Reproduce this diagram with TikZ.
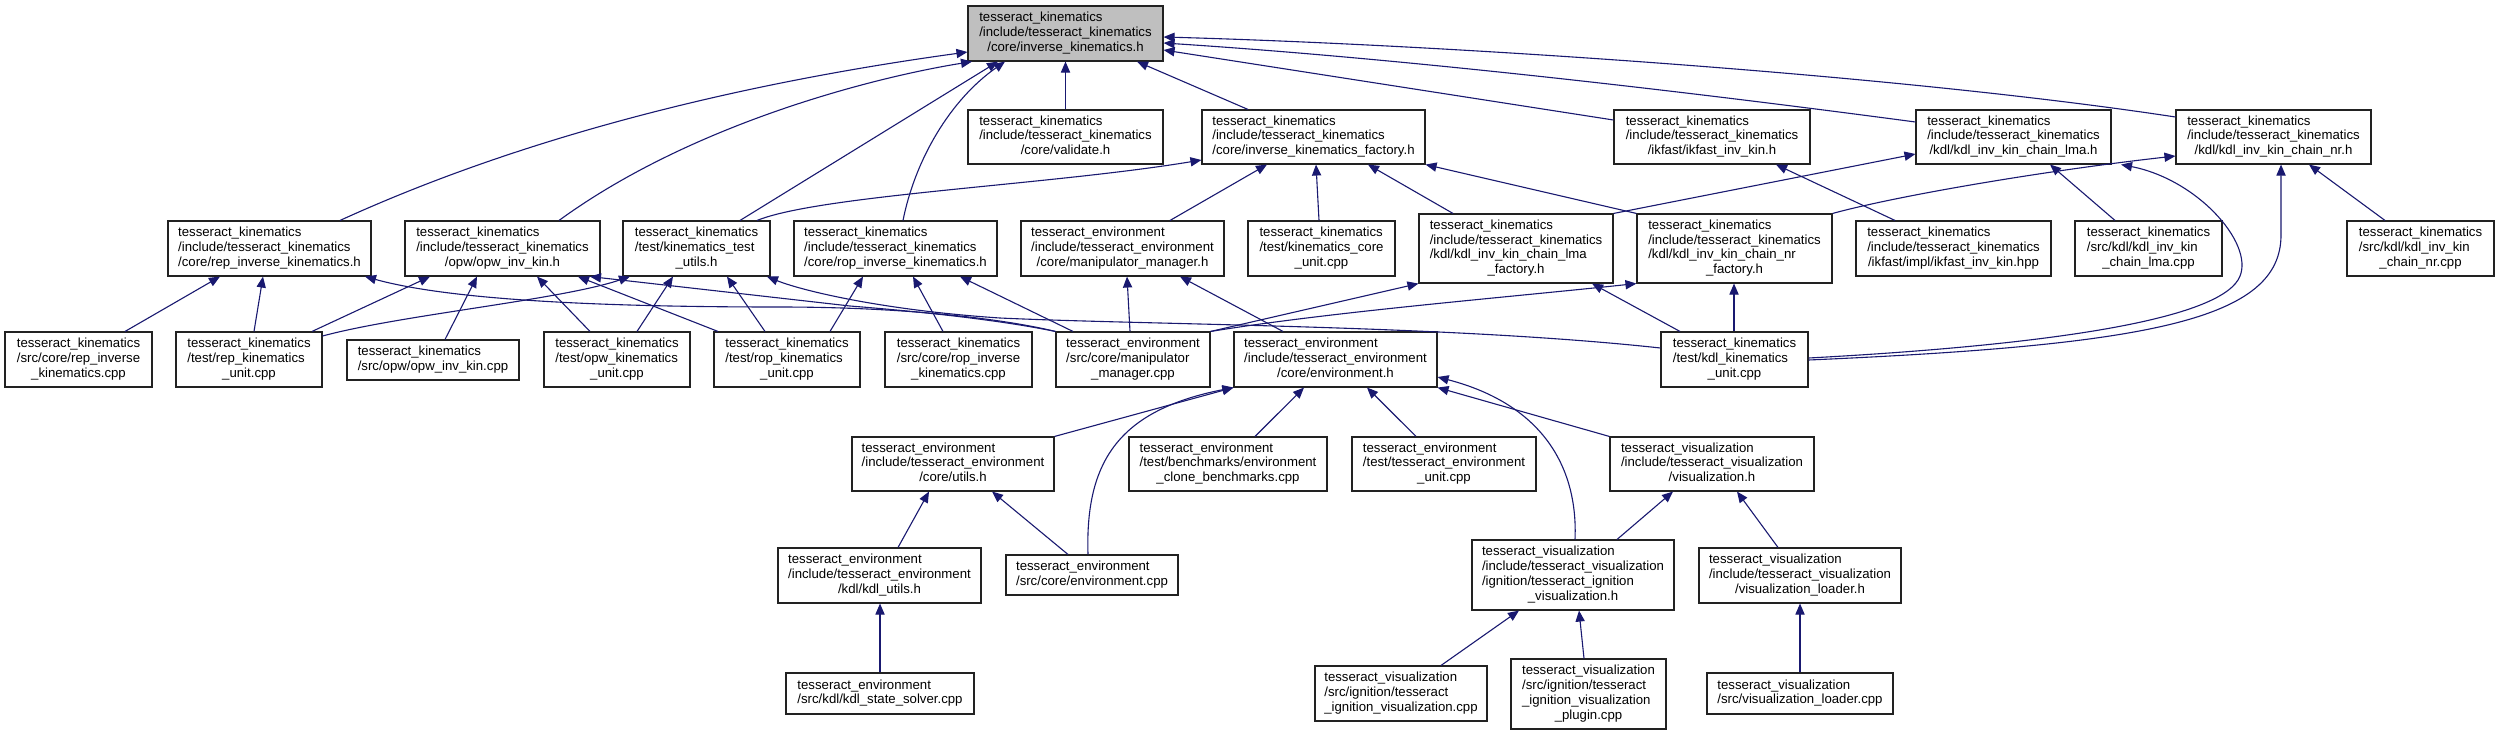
\documentclass[tikz,border=0pt]{standalone}
\usepackage{fontspec}
\setmainfont{Liberation Sans}
\usetikzlibrary{arrows.meta,calc}
\definecolor{edgeblue}{HTML}{191970}
\definecolor{rootgray}{HTML}{BFBFBF}
\definecolor{boxline}{HTML}{222222}
\newcommand\nt[2]{\begin{tabular}{@{}l@{}}#1\\\multicolumn{1}{@{}c@{}}{#2}\end{tabular}}
\tikzset{
  box/.style={draw=boxline, line width=0.55pt, fill=white, inner sep=0pt, font=\fontsize{6.6pt}{7.35pt}\selectfont},
  rootbox/.style={box, fill=rootgray},
  dep/.style={draw=edgeblue, line width=0.55pt, -{Triangle[length=5.5pt,width=4.6pt]}},
}
\newcommand\nb[8][box]{\node[#1, minimum width={(#5-#3)*0.5pt}, minimum height={(#6-#4)*0.5pt}] (#2) at ({(#3+#5)/2},{(#4+#6)/2}) {\nt{#7}{#8}};}
\begin{document}
\begin{tikzpicture}[x=0.5pt,y=-0.5pt]
\fill[white] (0,0) rectangle (2499,735);
\useasboundingbox (0,0) rectangle (2499,735);
% row 1
\nb[rootbox]{root}{968}{6}{1163}{61}{tesseract\_kinematics\\/include/tesseract\_kinematics}{/core/inverse\_kinematics.h}
% row 2
\nb{validate}{968}{110}{1163}{164}{tesseract\_kinematics\\/include/tesseract\_kinematics}{/core/validate.h}
\nb{factory}{1202}{110}{1425}{164}{tesseract\_kinematics\\/include/tesseract\_kinematics}{/core/inverse\_kinematics\_factory.h}
\nb{ikfasth}{1614}{110}{1810}{164}{tesseract\_kinematics\\/include/tesseract\_kinematics}{/ikfast/ikfast\_inv\_kin.h}
\nb{lmah}{1916}{110}{2111}{164}{tesseract\_kinematics\\/include/tesseract\_kinematics}{/kdl/kdl\_inv\_kin\_chain\_lma.h}
\nb{nrh}{2176}{110}{2371}{164}{tesseract\_kinematics\\/include/tesseract\_kinematics}{/kdl/kdl\_inv\_kin\_chain\_nr.h}
% row 3
\nb{reph}{168}{221}{371}{276}{tesseract\_kinematics\\/include/tesseract\_kinematics}{/core/rep\_inverse\_kinematics.h}
\nb{opwh}{405}{221}{600}{276}{tesseract\_kinematics\\/include/tesseract\_kinematics}{/opw/opw\_inv\_kin.h}
\nb{tuh}{623}{221}{770}{276}{tesseract\_kinematics\\/test/kinematics\_test}{\_utils.h}
\nb{roph}{794}{221}{997}{276}{tesseract\_kinematics\\/include/tesseract\_kinematics}{/core/rop\_inverse\_kinematics.h}
\nb{mmh}{1021}{221}{1224}{276}{tesseract\_environment\\/include/tesseract\_environment}{/core/manipulator\_manager.h}
\nb{kcu}{1248}{221}{1395}{276}{tesseract\_kinematics\\/test/kinematics\_core}{\_unit.cpp}
\nb{lmaf}{1419}{214}{1613}{283}{tesseract\_kinematics\\/include/tesseract\_kinematics\\/kdl/kdl\_inv\_kin\_chain\_lma}{\_factory.h}
\nb{nrf}{1637}{214}{1832}{283}{tesseract\_kinematics\\/include/tesseract\_kinematics\\/kdl/kdl\_inv\_kin\_chain\_nr}{\_factory.h}
\nb{ikhpp}{1856}{221}{2051}{276}{tesseract\_kinematics\\/include/tesseract\_kinematics}{/ikfast/impl/ikfast\_inv\_kin.hpp}
\nb{lmacpp}{2075}{221}{2222}{276}{tesseract\_kinematics\\/src/kdl/kdl\_inv\_kin}{\_chain\_lma.cpp}
\nb{nrcpp}{2347}{221}{2494}{276}{tesseract\_kinematics\\/src/kdl/kdl\_inv\_kin}{\_chain\_nr.cpp}
% row 4
\nb{repcpp}{5}{332}{152}{387}{tesseract\_kinematics\\/src/core/rep\_inverse}{\_kinematics.cpp}
\nb{repunit}{176}{332}{322}{387}{tesseract\_kinematics\\/test/rep\_kinematics}{\_unit.cpp}
\nb{opwcpp}{347}{340}{519}{380}{tesseract\_kinematics}{/src/opw/opw\_inv\_kin.cpp}
\nb{opwunit}{544}{332}{690}{387}{tesseract\_kinematics\\/test/opw\_kinematics}{\_unit.cpp}
\nb{ropunit}{714}{332}{860}{387}{tesseract\_kinematics\\/test/rop\_kinematics}{\_unit.cpp}
\nb{ropcpp}{885}{332}{1032}{387}{tesseract\_kinematics\\/src/core/rop\_inverse}{\_kinematics.cpp}
\nb{mmcpp}{1056}{332}{1210}{387}{tesseract\_environment\\/src/core/manipulator}{\_manager.cpp}
\nb{envh}{1234}{332}{1437}{387}{tesseract\_environment\\/include/tesseract\_environment}{/core/environment.h}
\nb{kdlunit}{1661}{332}{1808}{387}{tesseract\_kinematics\\/test/kdl\_kinematics}{\_unit.cpp}
% row 5
\nb{utilsh}{852}{437}{1054}{491}{tesseract\_environment\\/include/tesseract\_environment}{/core/utils.h}
\nb{bench}{1129}{437}{1327}{491}{tesseract\_environment\\/test/benchmarks/environment}{\_clone\_benchmarks.cpp}
\nb{envunit}{1352}{437}{1536}{491}{tesseract\_environment\\/test/tesseract\_environment}{\_unit.cpp}
\nb{vish}{1610}{437}{1814}{491}{tesseract\_visualization\\/include/tesseract\_visualization}{/visualization.h}
% row 6
\nb{kdlutils}{778}{548}{981}{603}{tesseract\_environment\\/include/tesseract\_environment}{/kdl/kdl\_utils.h}
\nb{envcpp}{1006}{555}{1178}{595}{tesseract\_environment}{/src/core/environment.cpp}
\nb{ignh}{1472}{540}{1674}{610}{tesseract\_visualization\\/include/tesseract\_visualization\\/ignition/tesseract\_ignition}{\_visualization.h}
\nb{loaderh}{1699}{548}{1901}{603}{tesseract\_visualization\\/include/tesseract\_visualization}{/visualization\_loader.h}
% row 7
\nb{kdlss}{786}{673}{974}{714}{tesseract\_environment}{/src/kdl/kdl\_state\_solver.cpp}
\nb{igncpp}{1315}{666}{1487}{721}{tesseract\_visualization\\/src/ignition/tesseract}{\_ignition\_visualization.cpp}
\nb{plugin}{1511}{659}{1666}{729}{tesseract\_visualization\\/src/ignition/tesseract\\\_ignition\_visualization}{\_plugin.cpp}
\nb{loadercpp}{1707}{673}{1893}{714}{tesseract\_visualization}{/src/visualization\_loader.cpp}
% edges into root
\draw[dep] (reph.north -| 340,0) .. controls (560,120) and (800,75) .. (root.west |- 0,52);
\draw[dep] (opwh.north -| 559,0) .. controls (690,125) and (870,78) .. (root.south -| 972,0);
\draw[dep] (tuh.north -| 740,0) -- (root.south -| 998,0);
\draw[dep] (roph.north -| 903,0) .. controls (915,160) and (950,100) .. (root.south -| 1005,0);
\draw[dep] (validate.north) -- (root.south);
\draw[dep] (factory.north -| 1248,0) -- (root.south -| 1137,0);
\draw[dep] (ikfasth.west |- 0,120) -- (root.east |- 0,50);
\draw[dep] (lmah.west |- 0,122) .. controls (1600,80) and (1350,55) .. (root.east |- 0,43);
\draw[dep] (nrh.west |- 0,117) .. controls (1900,75) and (1450,45) .. (root.east |- 0,37);
% into factory
\draw[dep] (tuh.north -| 757,0) .. controls (820,195) and (1050,185) .. (factory.west |- 0,160);
\draw[dep] (mmh.north -| 1170,0) -- (factory.south -| 1267,0);
\draw[dep] (kcu.north -| 1319,0) -- (factory.south -| 1316,0);
\draw[dep] (lmaf.north -| 1453,0) -- (factory.south -| 1368,0);
\draw[dep] (nrf.north west) -- (factory.south east);
% into row-2 kdl / ikfast
\draw[dep] (ikhpp.north -| 1895,0) -- (ikfasth.south -| 1776,0);
\draw[dep] (lmaf.north east) -- (lmah.west |- 0,154);
\draw[dep] (lmacpp.north -| 2115,0) -- (lmah.south -| 2050,0);
\draw[dep] (kdlunit.east |- 0,358) .. controls (2050,345) and (2213,320) .. (2238,280) .. controls (2258,248) and (2200,180) .. (lmah.south -| 2121,0);
\draw[dep] (nrf.north east) .. controls (1900,195) and (2050,170) .. (nrh.west |- 0,156);
\draw[dep] (nrcpp.north -| 2385,0) -- (nrh.south -| 2309,0);
\draw[dep] (kdlunit.east |- 0,360) .. controls (2150,345) and (2281,320) .. (2281,235) -- (nrh.south -| 2281,0);
% into row 3
\draw[dep] (repcpp.north -| 125,0) -- (reph.south -| 220,0);
\draw[dep] (repunit.north -| 254,0) -- (reph.south -| 263,0);
\draw[dep] (mmcpp.north west) .. controls (1000,318) and (900,307) .. (780,307) .. controls (600,307) and (450,300) .. (reph.south -| 365,0);
\draw[dep] (repunit.north -| 312,0) -- (opwh.south -| 430,0);
\draw[dep] (opwcpp.north -| 445,0) -- (opwh.south -| 477,0);
\draw[dep] (opwunit.north -| 590,0) -- (opwh.south -| 537,0);
\draw[dep] (ropunit.north -| 718,0) -- (opwh.south -| 578,0);
\draw[dep] (mmcpp.north west) .. controls (990,318) and (900,310) .. (850,306) -- (opwh.south -| 590,0);
\draw[dep] (repunit.east |- 0,336) .. controls (400,315) and (560,300) .. (tuh.south -| 630,0);
\draw[dep] (opwunit.north -| 637,0) -- (tuh.south -| 673,0);
\draw[dep] (ropunit.north -| 765,0) -- (tuh.south -| 727,0);
\draw[dep] (kdlunit.west |- 0,348) .. controls (1450,325) and (1150,325) .. (1000,318) .. controls (880,310) and (800,290) .. (tuh.south -| 767,0);
\draw[dep] (ropunit.north -| 830,0) -- (roph.south -| 863,0);
\draw[dep] (ropcpp.north -| 943,0) -- (roph.south -| 913,0);
\draw[dep] (mmcpp.north -| 1073,0) -- (roph.south -| 960,0);
\draw[dep] (mmcpp.north -| 1130,0) -- (mmh.south -| 1127,0);
\draw[dep] (envh.north -| 1283,0) -- (mmh.south -| 1180,0);
\draw[dep] (mmcpp.north east) -- (lmaf.south west);
\draw[dep] (kdlunit.north -| 1680,0) -- (lmaf.south -| 1592,0);
\draw[dep] (mmcpp.north east) .. controls (1330,312) and (1500,298) .. (nrf.south west);
\draw[dep] (kdlunit.north -| 1734,0) -- (nrf.south -| 1734,0);
% into environment.h
\draw[dep] (utilsh.north east) -- (envh.south west);
\draw[dep] (envcpp.north -| 1088,0) .. controls (1085,460) and (1120,410) .. (envh.south west);
\draw[dep] (bench.north -| 1255,0) -- (envh.south -| 1304,0);
\draw[dep] (envunit.north -| 1416,0) -- (envh.south -| 1367,0);
\draw[dep] (vish.north west) -- (envh.south east);
\draw[dep] (ignh.north -| 1575,0) .. controls (1578,470) and (1545,405) .. (envh.east |- 0,377);
% lower rows
\draw[dep] (kdlutils.north -| 898,0) -- (utilsh.south -| 929,0);
\draw[dep] (envcpp.north -| 1068,0) -- (utilsh.south -| 992,0);
\draw[dep] (kdlss.north -| 880,0) -- (kdlutils.south -| 880,0);
\draw[dep] (ignh.north -| 1617,0) -- (vish.south -| 1673,0);
\draw[dep] (loaderh.north -| 1778,0) -- (vish.south -| 1737,0);
\draw[dep] (igncpp.north -| 1441,0) -- (ignh.south -| 1519,0);
\draw[dep] (plugin.north -| 1584,0) -- (ignh.south -| 1579,0);
\draw[dep] (loadercpp.north -| 1800,0) -- (loaderh.south -| 1800,0);
\end{tikzpicture}
\end{document}
